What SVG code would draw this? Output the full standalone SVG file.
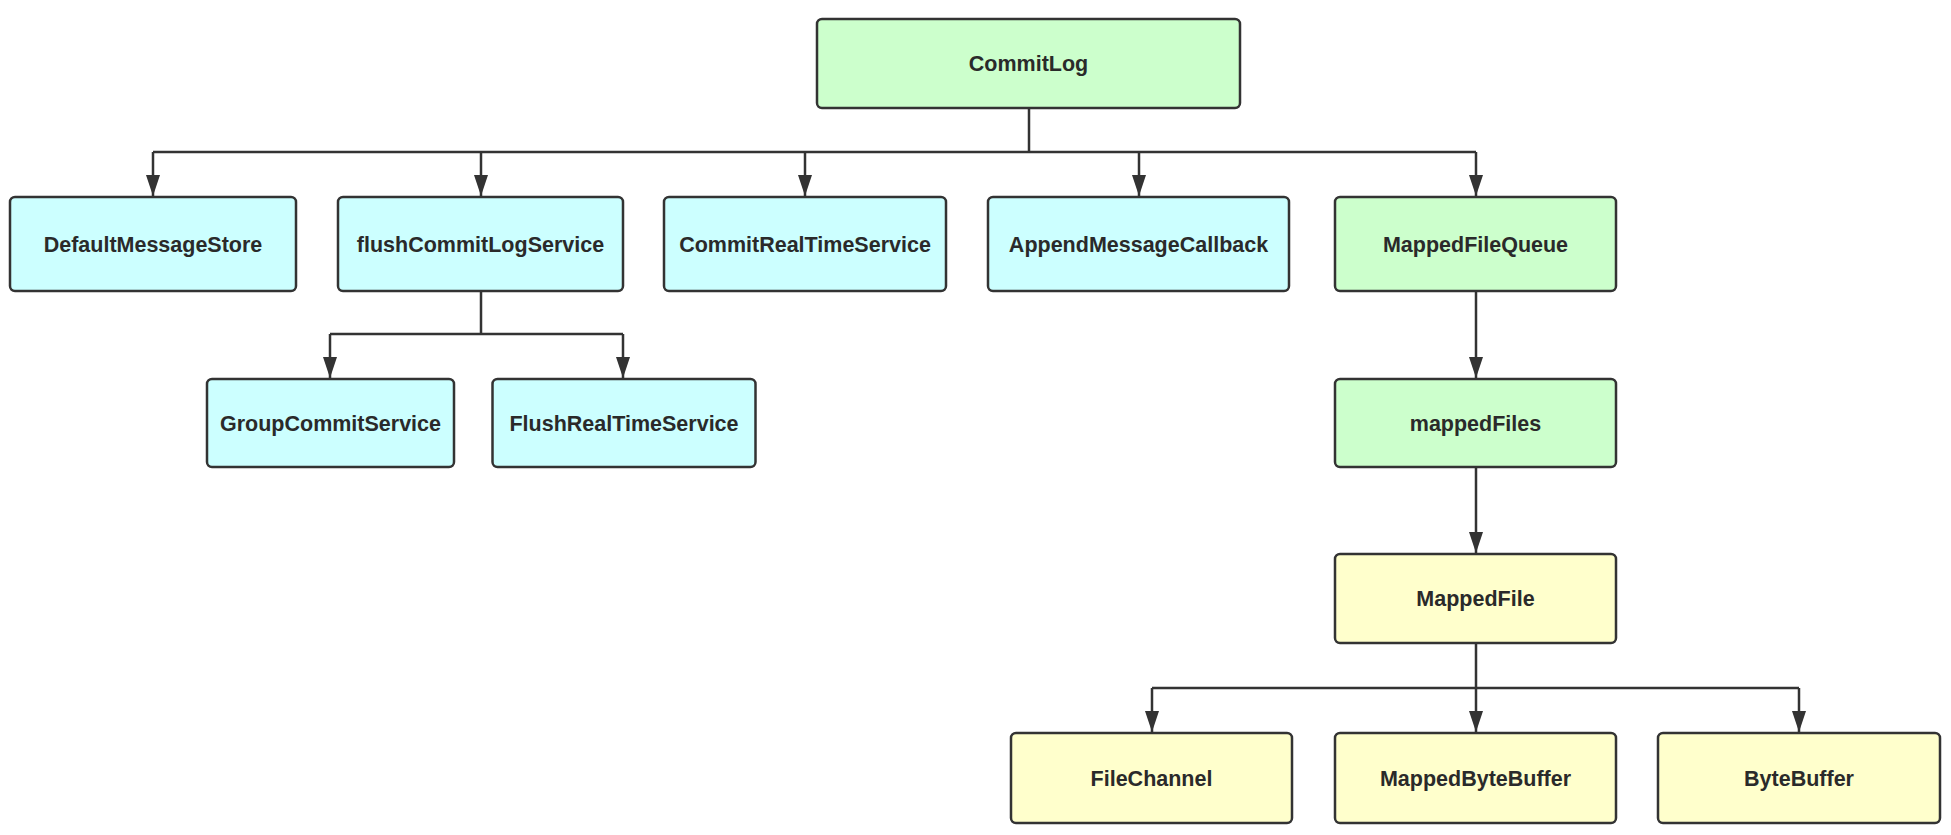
<svg xmlns="http://www.w3.org/2000/svg" width="1951" height="835" viewBox="0 0 1951 835">
<defs>
<marker id="arr" markerUnits="userSpaceOnUse" markerWidth="21" markerHeight="14" viewBox="0 0 21 14" refX="21" refY="7" orient="auto">
<path d="M0,0 L21,7 L0,14 Z" fill="#333"/>
</marker>
<style>
.n rect{stroke:#333;stroke-width:2.5;rx:5;ry:5}
.g rect{fill:#CCFFCC}
.c rect{fill:#CCFFFF}
.y rect{fill:#FFFFCC}
.n text{font-family:"Liberation Sans",Arial,sans-serif;font-weight:bold;font-size:21.5px;fill:#2a2a2a;text-anchor:middle}
.e{fill:none;stroke:#333;stroke-width:2.5}
</style>
</defs>
<rect width="1951" height="835" fill="#fff"/>
<g id="connectors">
<path class="e" d="M1029,108 V152"/>
<path class="e" d="M153,152 H1476"/>
<path class="e" d="M153,152 V196" marker-end="url(#arr)"/>
<path class="e" d="M481,152 V196" marker-end="url(#arr)"/>
<path class="e" d="M805,152 V196" marker-end="url(#arr)"/>
<path class="e" d="M1139,152 V196" marker-end="url(#arr)"/>
<path class="e" d="M1476,152 V196" marker-end="url(#arr)"/>
<path class="e" d="M481,291 V334 M330,334 H623"/>
<path class="e" d="M330,334 V378" marker-end="url(#arr)"/>
<path class="e" d="M623,334 V378" marker-end="url(#arr)"/>
<path class="e" d="M1476,291 V378" marker-end="url(#arr)"/>
<path class="e" d="M1476,467 V553" marker-end="url(#arr)"/>
<path class="e" d="M1476,643 V688 M1152,688 H1799"/>
<path class="e" d="M1152,688 V732" marker-end="url(#arr)"/>
<path class="e" d="M1476,688 V732" marker-end="url(#arr)"/>
<path class="e" d="M1799,688 V732" marker-end="url(#arr)"/>
</g>
<g id="CommitLog" class="n g"><rect x="817" y="19" width="423" height="89"/><text x="1028.5" y="71">CommitLog</text></g>
<g id="DefaultMessageStore" class="n c"><rect x="10" y="197" width="286" height="94"/><text x="153" y="251.5">DefaultMessageStore</text></g>
<g id="flushCommitLogService" class="n c"><rect x="338" y="197" width="285" height="94"/><text x="480.5" y="251.5">flushCommitLogService</text></g>
<g id="CommitRealTimeService" class="n c"><rect x="664" y="197" width="282" height="94"/><text x="805" y="251.5">CommitRealTimeService</text></g>
<g id="AppendMessageCallback" class="n c"><rect x="988" y="197" width="301" height="94"/><text x="1138.5" y="251.5">AppendMessageCallback</text></g>
<g id="MappedFileQueue" class="n g"><rect x="1335" y="197" width="281" height="94"/><text x="1475.5" y="251.5">MappedFileQueue</text></g>
<g id="GroupCommitService" class="n c"><rect x="207" y="379" width="247" height="88"/><text x="330.5" y="430.5">GroupCommitService</text></g>
<g id="FlushRealTimeService" class="n c"><rect x="492.5" y="379" width="263" height="88"/><text x="624" y="430.5">FlushRealTimeService</text></g>
<g id="mappedFiles" class="n g"><rect x="1335" y="379" width="281" height="88"/><text x="1475.5" y="430.5">mappedFiles</text></g>
<g id="MappedFile" class="n y"><rect x="1335" y="554" width="281" height="89"/><text x="1475.5" y="606">MappedFile</text></g>
<g id="FileChannel" class="n y"><rect x="1011" y="733" width="281" height="90"/><text x="1151.5" y="785.5">FileChannel</text></g>
<g id="MappedByteBuffer" class="n y"><rect x="1335" y="733" width="281" height="90"/><text x="1475.5" y="785.5">MappedByteBuffer</text></g>
<g id="ByteBuffer" class="n y"><rect x="1658" y="733" width="282" height="90"/><text x="1799" y="785.5">ByteBuffer</text></g>
</svg>
